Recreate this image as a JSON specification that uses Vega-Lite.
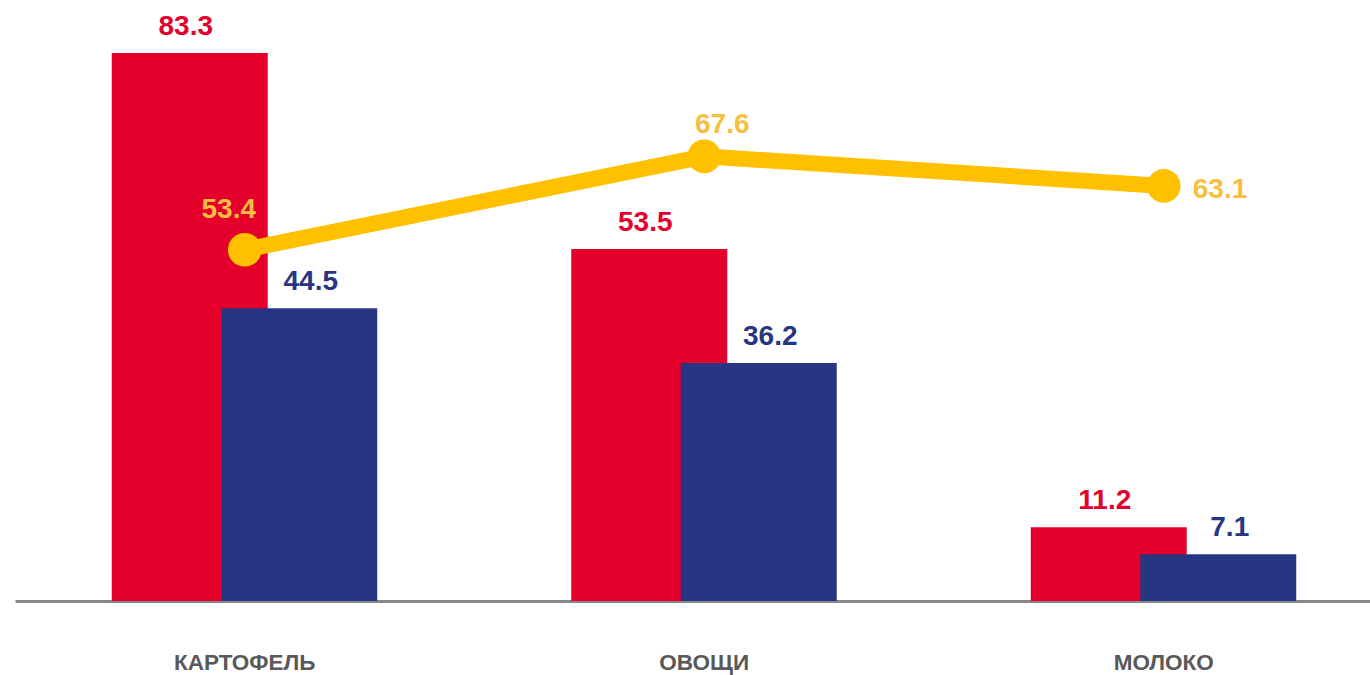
{
  "$schema": "https://vega.github.io/schema/vega-lite/v6.json",
  "width": 1355,
  "height": 592,
  "autosize": "none",
  "padding": {"left": 15, "top": 9, "right": 0, "bottom": 74},
  "background": "white",
  "config": {"view": {"stroke": null}, "font": "Liberation Sans"},
  "data": {
    "values": [
      {"category": "КАРТОФЕЛЬ", "series": "A", "value": 83.3},
      {"category": "ОВОЩИ", "series": "A", "value": 53.5},
      {"category": "МОЛОКО", "series": "A", "value": 11.2},
      {"category": "КАРТОФЕЛЬ", "series": "B", "value": 44.5},
      {"category": "ОВОЩИ", "series": "B", "value": 36.2},
      {"category": "МОЛОКО", "series": "B", "value": 7.1},
      {"category": "КАРТОФЕЛЬ", "series": "C", "value": 53.4},
      {"category": "ОВОЩИ", "series": "C", "value": 67.6},
      {"category": "МОЛОКО", "series": "C", "value": 63.1}
    ]
  },
  "encoding": {
    "x": {
      "field": "category",
      "type": "nominal",
      "sort": ["КАРТОФЕЛЬ", "ОВОЩИ", "МОЛОКО"],
      "title": null,
      "scale": {"range": [0, 1378.5], "paddingInner": 0, "paddingOuter": 0},
      "axis": {
        "domainColor": "#878787",
        "domainWidth": 3,
        "ticks": false,
        "tickSize": 0,
        "grid": false,
        "labelAngle": 0,
        "labelFont": "Liberation Sans",
        "labelFontSize": 22.5,
        "labelFontWeight": "bold",
        "labelColor": "#595959",
        "labelBaseline": "alphabetic",
        "labelPadding": 68
      }
    },
    "y": {
      "field": "value",
      "type": "quantitative",
      "scale": {"domain": [0, 90], "nice": false, "zero": true},
      "axis": null
    }
  },
  "layer": [
    {
      "transform": [{"filter": "datum.series === 'A'"}],
      "mark": {"type": "bar", "width": 156, "xOffset": -55, "color": "#E4002B"}
    },
    {
      "transform": [{"filter": "datum.series === 'B'"}],
      "mark": {"type": "bar", "width": 156, "xOffset": 54.5, "color": "#283583"}
    },
    {
      "transform": [{"filter": "datum.series === 'C'"}],
      "mark": {"type": "line", "color": "#FFC000", "strokeWidth": 16, "strokeCap": "butt"}
    },
    {
      "transform": [{"filter": "datum.series === 'C'"}],
      "mark": {"type": "circle", "color": "#FFC000", "size": 1134, "opacity": 1}
    },
    {
      "transform": [{"filter": "datum.series === 'A'"}],
      "mark": {"type": "text", "dx": -59, "dy": -18, "align": "center", "baseline": "alphabetic", "fontSize": 28, "fontWeight": "bold", "color": "#E4002B"},
      "encoding": {"text": {"field": "value", "type": "quantitative", "format": ".1f"}}
    },
    {
      "transform": [{"filter": "datum.series === 'B'"}],
      "mark": {"type": "text", "dx": 66, "dy": -18, "align": "center", "baseline": "alphabetic", "fontSize": 28, "fontWeight": "bold", "color": "#283583"},
      "encoding": {"text": {"field": "value", "type": "quantitative", "format": ".1f"}}
    },
    {
      "transform": [{"filter": "datum.series === 'C' && datum.category === 'КАРТОФЕЛЬ'"}],
      "mark": {"type": "text", "dx": -16, "dy": -32, "align": "center", "baseline": "alphabetic", "fontSize": 28, "fontWeight": "bold", "color": "#F8BE40"},
      "encoding": {"text": {"field": "value", "type": "quantitative", "format": ".1f"}}
    },
    {
      "transform": [{"filter": "datum.series === 'C' && datum.category === 'ОВОЩИ'"}],
      "mark": {"type": "text", "dx": 18, "dy": -23, "align": "center", "baseline": "alphabetic", "fontSize": 28, "fontWeight": "bold", "color": "#F8BE40"},
      "encoding": {"text": {"field": "value", "type": "quantitative", "format": ".1f"}}
    },
    {
      "transform": [{"filter": "datum.series === 'C' && datum.category === 'МОЛОКО'"}],
      "mark": {"type": "text", "dx": 29, "dy": 12, "align": "left", "baseline": "alphabetic", "fontSize": 28, "fontWeight": "bold", "color": "#F8BE40"},
      "encoding": {"text": {"field": "value", "type": "quantitative", "format": ".1f"}}
    }
  ]
}
